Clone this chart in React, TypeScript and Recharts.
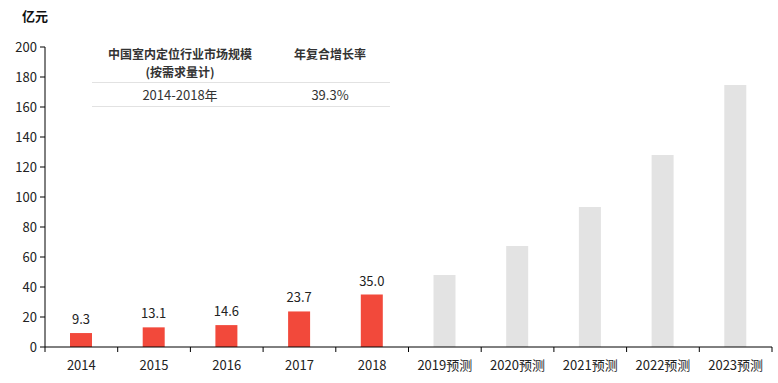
import { BarChart, Bar, XAxis, YAxis, LabelList } from 'recharts'

const years = ['2014', '2015', '2016', '2017', '2018', '2019预测', '2020预测', '2021预测', '2022预测', '2023预测']
const actual: (number | null)[] = [9.3, 13.1, 14.6, 23.7, 35.0, null, null, null, null, null]
const forecast: (number | null)[] = [null, null, null, null, null, 48.0, 67.3, 93.3, 128.0, 174.7]
const yTicks = [0, 20, 40, 60, 80, 100, 120, 140, 160, 180, 200]

const data = years.map((y, i) => ({ year: y, actual: actual[i], forecast: forecast[i] }))

const FONT = '"Microsoft YaHei", "Noto Sans CJK SC", "Noto Sans", sans-serif'
const BAND = (772 - 45) / years.length

function XTick(props: any) {
  const { x, y, payload, index } = props
  const left = x - BAND / 2
  return (
    <g>
      <line x1={left} y1={y - 8} x2={left} y2={y - 3} stroke="#000" />
      {index === years.length - 1 && (
        <line x1={x + BAND / 2} y1={y - 8} x2={x + BAND / 2} y2={y - 3} stroke="#000" />
      )}
      <text x={x} y={y + 15} textAnchor="middle" fontSize={13} fill="#222" fontFamily={FONT}>
        {payload.value}
      </text>
    </g>
  )
}

const cell: React.CSSProperties = { position: 'absolute', fontFamily: FONT, fontSize: 12, color: '#333', textAlign: 'center' }

export default function App() {
  return (
    <div style={{ position: 'absolute', left: 0, top: 0, width: 778, height: 383, background: '#fff' }}>
      <BarChart width={778} height={383} data={data} margin={{ top: 47, right: 6, bottom: 0, left: 0 }} barSize={22}>
        <XAxis
          dataKey="year"
          height={36}
          axisLine={{ stroke: '#000' }}
          tickLine={false}
          tick={<XTick />}
          interval={0}
        />
        <YAxis
          width={45}
          domain={[0, 200]}
          ticks={yTicks}
          axisLine={{ stroke: '#000' }}
          tickLine={{ stroke: '#000' }}
          tickSize={5}
          tickMargin={3}
          tick={{ fontSize: 13, fill: '#222', fontFamily: FONT }}
        />
        <Bar dataKey="actual" stackId="a" fill="#f2493b" isAnimationActive={false}>
          <LabelList dataKey="actual" position="top" offset={9} fontSize={13} fill="#222" fontFamily={FONT}
            formatter={(v: any) => (v == null ? '' : Number(v).toFixed(1))} />
        </Bar>
        <Bar dataKey="forecast" stackId="a" fill="#e3e3e3" isAnimationActive={false} />
      </BarChart>

      <div style={{ position: 'absolute', left: 22, top: 6, fontFamily: FONT, fontSize: 13, fontWeight: 'bold', color: '#111' }}>亿元</div>

      <div style={{ ...cell, left: 92, top: 46, width: 176, fontWeight: 'bold', lineHeight: '16px' }}>中国室内定位行业市场规模</div>
      <div style={{ ...cell, left: 92, top: 64.5, width: 176, fontWeight: 'bold', lineHeight: '14px' }}>(按需求量计)</div>
      <div style={{ ...cell, left: 270, top: 46, width: 120, fontWeight: 'bold', lineHeight: '16px' }}>年复合增长率</div>
      <div style={{ position: 'absolute', left: 92, top: 82, width: 298, height: 1, background: '#e2e2e2' }} />
      <div style={{ ...cell, left: 92, top: 86, width: 176, fontSize: 13, lineHeight: '18px' }}>2014-2018年</div>
      <div style={{ ...cell, left: 270, top: 86, width: 120, fontSize: 13, lineHeight: '18px' }}>39.3%</div>
      <div style={{ position: 'absolute', left: 92, top: 106, width: 298, height: 1, background: '#e2e2e2' }} />
    </div>
  )
}
